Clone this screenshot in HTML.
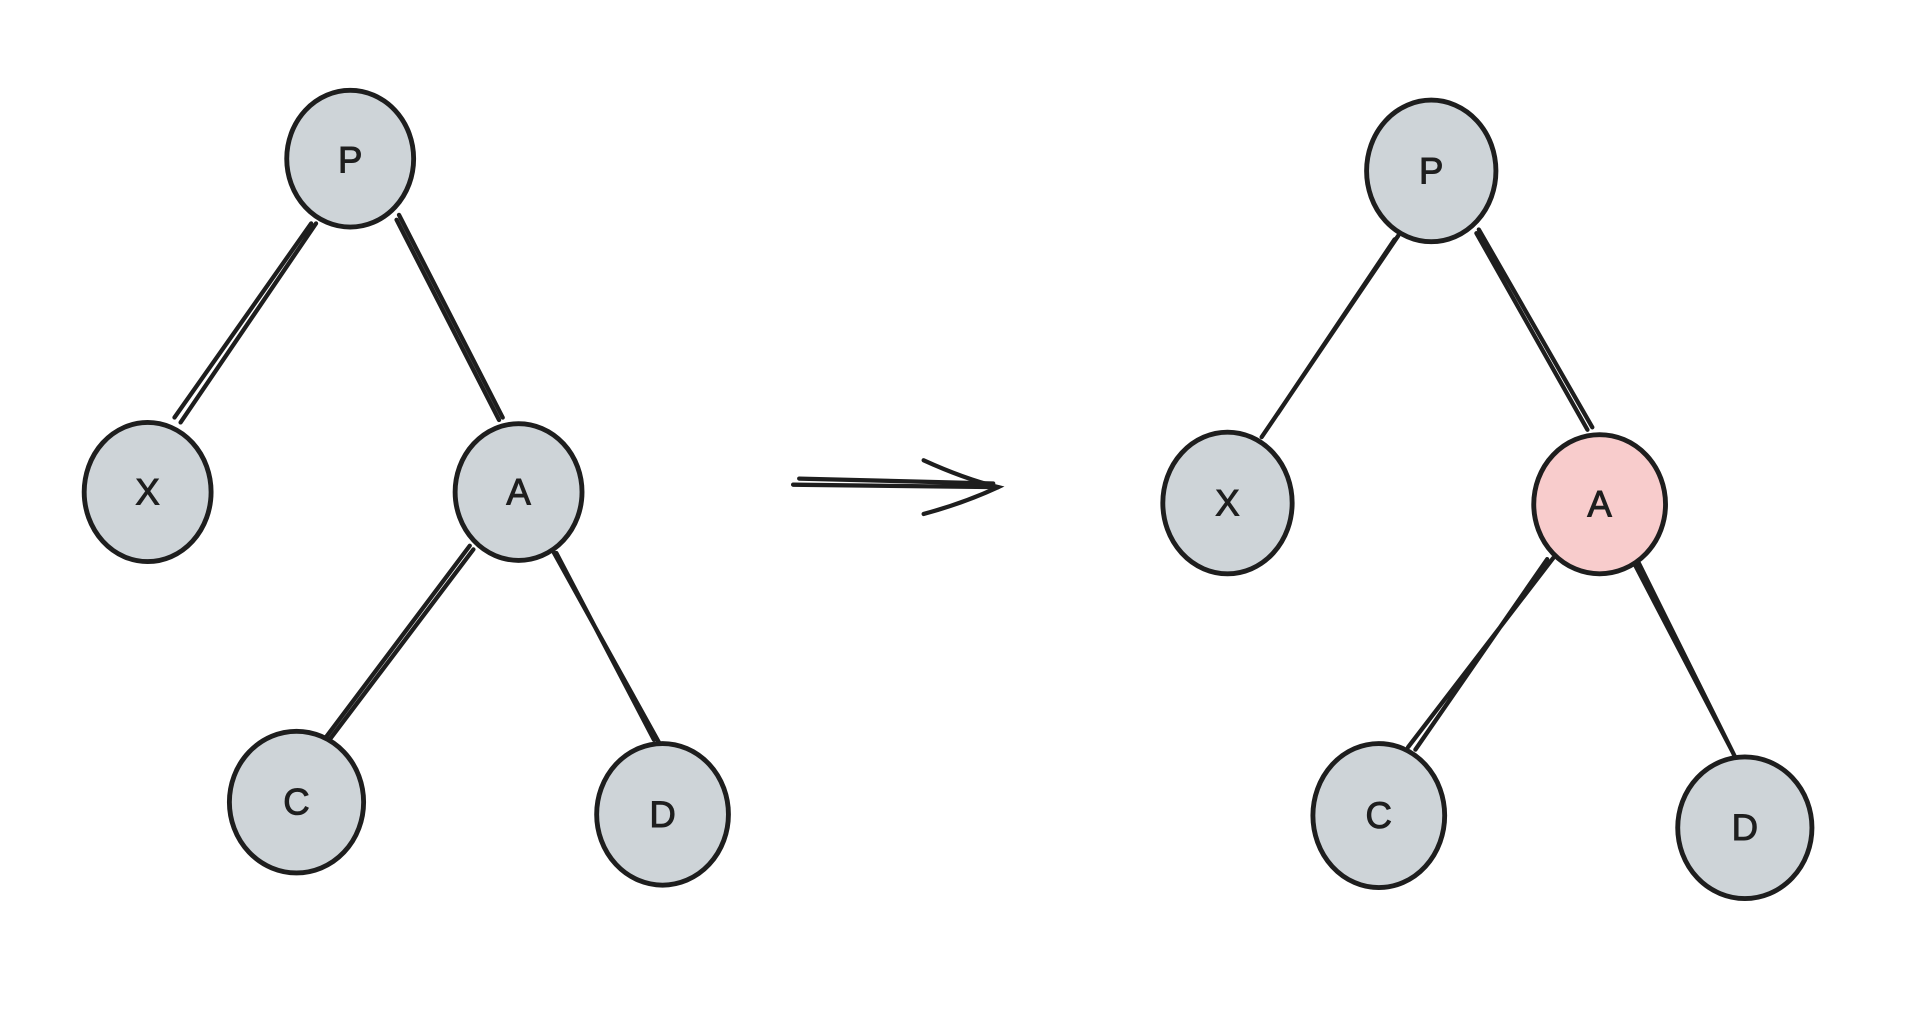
<!DOCTYPE html>
<html><head><style>html,body{margin:0;padding:0;background:#fff;overflow:hidden}</style></head>
<body>
<svg width="1912" height="1006" viewBox="0 0 1567 824" preserveAspectRatio="none" xmlns="http://www.w3.org/2000/svg">
<g stroke="#1e1e1e" stroke-width="3.5" stroke-linecap="round" fill="none">
<path d="M255 183 L143 342 M259 183 L148 346"/>
<path d="M327 176 L412 342 M325 180 L409 344"/>
<path d="M385 447 L267 604 M388 450 L270 606"/>
<path d="M453 451 L540 608 M456 453 L536 606"/>
<path d="M1146 193 L1034 358 M1143 196 L1047 339"/>
<path d="M1212 188 L1305 350 M1210 191 L1301 352"/>
<path d="M1273 457 L1154 612 M1268 458 L1160 614"/>
<path d="M1340 455 L1422 620 M1337 457 L1420 616"/>
<path d="M650 397 L818 399 M655 392 L814 396"/>
<path d="M757 377 Q790 392 818 399 Q790 412 757 421"/>
</g>
<g stroke="#1e1e1e" stroke-width="4" fill="#ced4d8">
<ellipse cx="287" cy="130" rx="52" ry="56"/>
<ellipse cx="121" cy="403" rx="52" ry="57"/>
<ellipse cx="425" cy="403" rx="52" ry="56"/>
<ellipse cx="243" cy="657" rx="55" ry="58"/>
<ellipse cx="543" cy="667" rx="54" ry="58"/>
<ellipse cx="1173" cy="140" rx="53" ry="58"/>
<ellipse cx="1006" cy="412" rx="53" ry="58"/>
<ellipse cx="1311" cy="413" rx="54" ry="57" fill="#f8cccc"/>
<ellipse cx="1130" cy="668" rx="54" ry="59"/>
<ellipse cx="1430" cy="678" rx="55" ry="58"/>
</g>
<g font-family="Liberation Sans, sans-serif" font-size="30" fill="#1e1e1e" stroke="#1e1e1e" stroke-width="0.8" text-anchor="middle" dominant-baseline="central">
<text x="287" y="131">P</text>
<text x="121" y="403">X</text>
<text x="425" y="403">A</text>
<text x="243" y="657">C</text>
<text x="543" y="667">D</text>
<text x="1173" y="140">P</text>
<text x="1006" y="412">X</text>
<text x="1311" y="413">A</text>
<text x="1130" y="668">C</text>
<text x="1430" y="678">D</text>
</g>
</svg>
</body></html>
